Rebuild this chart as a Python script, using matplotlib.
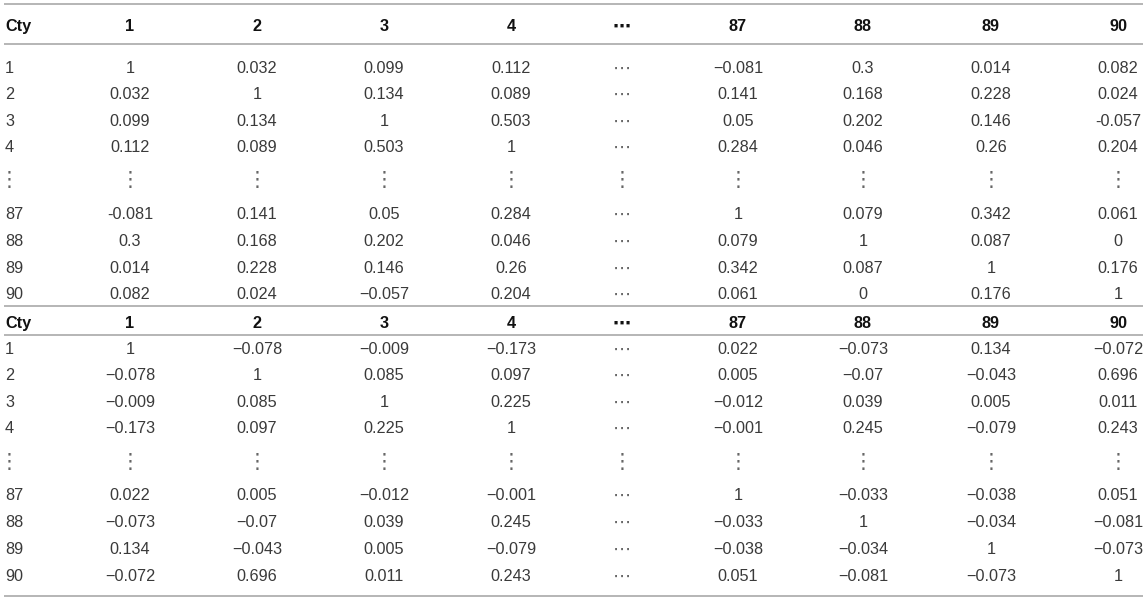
import matplotlib
matplotlib.use("Agg")
import matplotlib.pyplot as plt

plt.rcParams['font.family'] = ['Liberation Sans', 'DejaVu Sans']

# ---- data ----
col_labels = ['1', '2', '3', '4', '⋯', '87', '88', '89', '90']
row_labels = ['1', '2', '3', '4', '⋮', '87', '88', '89', '90']
corner_label = 'Cty'

table_a = [
    ['1', '0.032', '0.099', '0.112', '⋯', '−0.081', '0.3', '0.014', '0.082'],
    ['0.032', '1', '0.134', '0.089', '⋯', '0.141', '0.168', '0.228', '0.024'],
    ['0.099', '0.134', '1', '0.503', '⋯', '0.05', '0.202', '0.146', '-0.057'],
    ['0.112', '0.089', '0.503', '1', '⋯', '0.284', '0.046', '0.26', '0.204'],
    ['⋮', '⋮', '⋮', '⋮', '⋮', '⋮', '⋮', '⋮', '⋮'],
    ['-0.081', '0.141', '0.05', '0.284', '⋯', '1', '0.079', '0.342', '0.061'],
    ['0.3', '0.168', '0.202', '0.046', '⋯', '0.079', '1', '0.087', '0'],
    ['0.014', '0.228', '0.146', '0.26', '⋯', '0.342', '0.087', '1', '0.176'],
    ['0.082', '0.024', '−0.057', '0.204', '⋯', '0.061', '0', '0.176', '1'],
]

table_b = [
    ['1', '−0.078', '−0.009', '−0.173', '⋯', '0.022', '−0.073', '0.134', '−0.072'],
    ['−0.078', '1', '0.085', '0.097', '⋯', '0.005', '−0.07', '−0.043', '0.696'],
    ['−0.009', '0.085', '1', '0.225', '⋯', '−0.012', '0.039', '0.005', '0.011'],
    ['−0.173', '0.097', '0.225', '1', '⋯', '−0.001', '0.245', '−0.079', '0.243'],
    ['⋮', '⋮', '⋮', '⋮', '⋮', '⋮', '⋮', '⋮', '⋮'],
    ['0.022', '0.005', '−0.012', '−0.001', '⋯', '1', '−0.033', '−0.038', '0.051'],
    ['−0.073', '−0.07', '0.039', '0.245', '⋯', '−0.033', '1', '−0.034', '−0.081'],
    ['0.134', '−0.043', '0.005', '−0.079', '⋯', '−0.038', '−0.034', '1', '−0.073'],
    ['−0.072', '0.696', '0.011', '0.243', '⋯', '0.051', '−0.081', '−0.073', '1'],
]

# ---- layout (pixel coordinates) ----
W, H = 1147, 600
col_x = [130, 257, 384, 511, 622, 738, 863, 991, 1118]
label_x = 5
line_x0, line_x1 = 4, 1143

sections = [
    dict(header_y=25, rows_y=[67, 93, 120, 146, 180, 213, 240, 267, 293], data=table_a),
    dict(header_y=322, rows_y=[348, 374, 401, 427, 462, 494, 521, 548, 575], data=table_b),
]
hlines_y = [4, 44, 306, 335, 596]

fig = plt.figure(figsize=(W / 100, H / 100), dpi=100)
ax = fig.add_axes([0, 0, 1, 1])
ax.set_xlim(0, W)
ax.set_ylim(H, 0)
ax.axis('off')

line_col = '#b5b5b5'
txt_col = '#3a3a3a'
dot_col = '#666666'
hdr_col = '#111111'
fs = 11.7


for y in hlines_y:
    ax.plot([line_x0, line_x1], [y, y], color=line_col, lw=1.4, solid_capstyle='butt')


def put(x, y, s, ha='center', header=False, **kw):
    if s == '⋮':
        ax.text(x, y, s, ha='center', va='center', fontsize=15, color=dot_col,
                family=['DejaVu Sans'])
    elif s == '⋯':
        ax.text(x, y + 2, s, ha='center', va='center', fontsize=13,
                color=hdr_col if header else dot_col,
                fontweight='bold' if header else 'normal',
                family=['DejaVu Sans'])
    else:
        ax.text(x, y, s, ha=ha, va='center_baseline', fontsize=fs, **kw)


for sec in sections:
    hy = sec['header_y']
    put(label_x, hy, corner_label, ha='left', fontweight='bold', color=hdr_col)
    for x, lab in zip(col_x, col_labels):
        put(x, hy, lab, header=True, fontweight='bold', color=hdr_col)
    for ry, rlab, row in zip(sec['rows_y'], row_labels, sec['data']):
        if rlab == '⋮':
            put(label_x + 4, ry, rlab)
        else:
            put(label_x, ry, rlab, ha='left', color=txt_col)
        for x, val in zip(col_x, row):
            put(x, ry, val, color=txt_col)

fig.savefig('out.png', dpi=100)
